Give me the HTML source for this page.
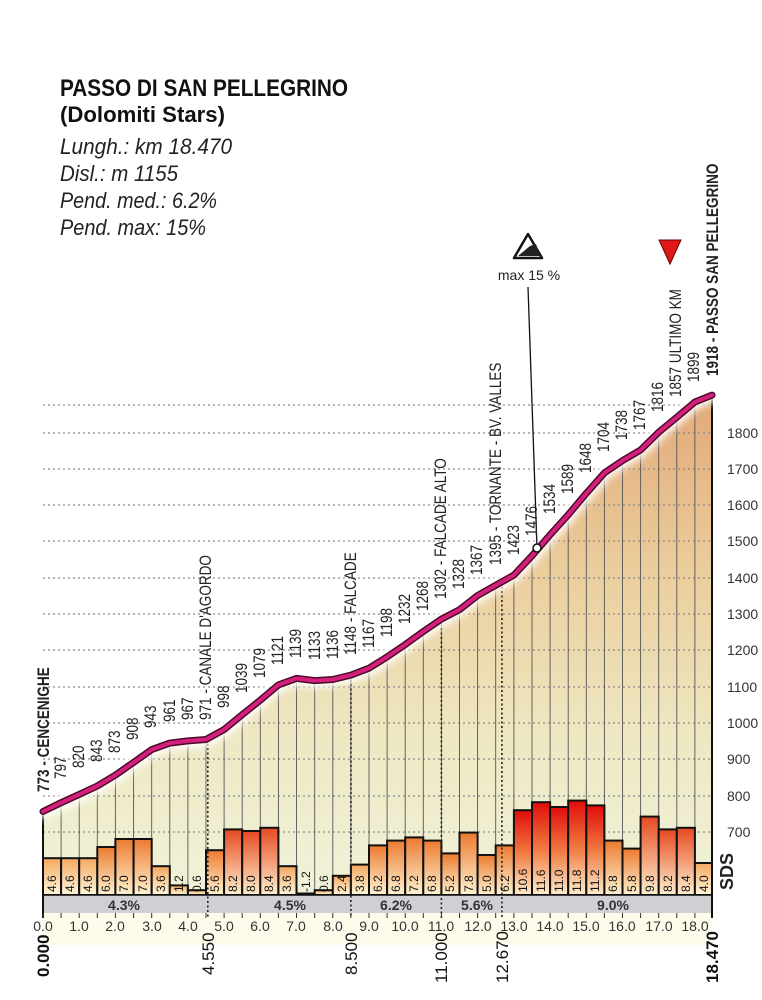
<!DOCTYPE html>
<html><head><meta charset="utf-8"><style>
body{margin:0;background:#fff;}
svg{display:block;font-family:"Liberation Sans Narrow","Liberation Sans",sans-serif;}
.ev{font-size:16.5px;fill:#222;}
.bv{font-size:12px;fill:#111;}
.ax{font-size:14px;fill:#333;}
</style></head><body>
<svg width="762" height="1000" viewBox="0 0 762 1000" xmlns="http://www.w3.org/2000/svg">
<defs>
<linearGradient id="fill" x1="0" y1="395" x2="0" y2="895" gradientUnits="userSpaceOnUse">
<stop offset="0" stop-color="#e2a878"/><stop offset="0.35" stop-color="#ebcd9c"/><stop offset="0.7" stop-color="#eee9c4"/><stop offset="1" stop-color="#f1f2da"/>
</linearGradient>
<linearGradient id="b1" x1="0" y1="0" x2="0" y2="1"><stop offset="0" stop-color="#f3a860"/><stop offset="1" stop-color="#fff6d8"/></linearGradient>
<linearGradient id="b2" x1="0" y1="0" x2="0" y2="1"><stop offset="0" stop-color="#ec7a30"/><stop offset="1" stop-color="#fff3d0"/></linearGradient>
<linearGradient id="b3" x1="0" y1="0" x2="0" y2="1"><stop offset="0" stop-color="#e54a22"/><stop offset="1" stop-color="#fff0cc"/></linearGradient>
<linearGradient id="b4" x1="0" y1="0" x2="0" y2="1"><stop offset="0" stop-color="#e00c0c"/><stop offset="0.5" stop-color="#f07a40"/><stop offset="1" stop-color="#ffeccc"/></linearGradient>
<filter id="gl" x="-10%" y="-10%" width="120%" height="120%"><feGaussianBlur stdDeviation="4"/></filter>
</defs>

<text x="60" y="96" font-size="24" font-weight="bold" fill="#111" textLength="288" lengthAdjust="spacingAndGlyphs">PASSO DI SAN PELLEGRINO</text>
<text x="60" y="122" font-size="22" font-weight="bold" fill="#111" textLength="165" lengthAdjust="spacingAndGlyphs">(Dolomiti Stars)</text>
<g font-size="22" font-style="italic" fill="#222">
<text x="60" y="154" textLength="172" lengthAdjust="spacingAndGlyphs">Lungh.: km 18.470</text>
<text x="60" y="181" textLength="118" lengthAdjust="spacingAndGlyphs">Disl.: m 1155</text>
<text x="60" y="208" textLength="157" lengthAdjust="spacingAndGlyphs">Pend. med.: 6.2%</text>
<text x="60" y="235" textLength="146" lengthAdjust="spacingAndGlyphs">Pend. max: 15%</text>
</g>

<rect x="43" y="913" width="669" height="32" fill="#fdfbea"/>

<polygon fill="url(#fill)" points="43,811.5 61.1,802.7 79.2,794.4 97.3,786.0 115.4,775.1 133.6,762.4 151.7,749.6 169.8,743.1 187.9,740.9 206.0,739.5 224.1,729.6 242.2,714.7 260.3,700.2 278.4,684.9 296.5,678.4 314.7,680.6 332.8,679.5 350.9,675.1 369.0,668.2 387.1,656.9 405.2,644.6 423.3,631.5 441.4,619.1 459.5,609.7 477.6,595.5 495.7,585.3 513.9,575.1 532.0,555.8 550.1,534.8 568.2,514.8 586.3,493.3 604.4,472.9 622.5,460.6 640.6,450.0 658.7,432.2 676.8,417.3 694.9,402.0 712,395.1 712,895 43,895"/>

<g stroke="#8a8a8a" stroke-width="1.2" stroke-dasharray="2,3">
<line x1="43" x2="712" y1="405" y2="405"/><line x1="43" x2="712" y1="433" y2="433"/><line x1="43" x2="712" y1="469" y2="469"/><line x1="43" x2="712" y1="505" y2="505"/><line x1="43" x2="712" y1="541" y2="541"/><line x1="43" x2="712" y1="578" y2="578"/><line x1="43" x2="712" y1="614" y2="614"/><line x1="43" x2="712" y1="650" y2="650"/><line x1="43" x2="712" y1="687" y2="687"/><line x1="43" x2="712" y1="723" y2="723"/><line x1="43" x2="712" y1="759" y2="759"/><line x1="43" x2="712" y1="796" y2="796"/><line x1="43" x2="712" y1="832" y2="832"/>
</g>
<g class="ax" font-size="13">
<text x="727" y="438">1800</text><text x="727" y="474">1700</text><text x="727" y="510">1600</text><text x="727" y="546">1500</text><text x="727" y="583">1400</text><text x="727" y="619">1300</text><text x="727" y="655">1200</text><text x="727" y="692">1100</text><text x="727" y="728">1000</text><text x="727" y="764">900</text><text x="727" y="801">800</text><text x="727" y="837">700</text>
</g>

<path stroke="#555" stroke-width="0.9" fill="none" d="M61.1 802.7V895M79.2 794.4V895M97.3 786V895M115.4 775.1V895M133.6 762.4V895M151.7 749.6V895M169.8 743.1V895M187.9 740.9V895M206 739.5V895M224.1 729.6V895M242.2 714.7V895M260.3 700.2V895M278.4 684.9V895M296.5 678.4V895M314.7 680.6V895M332.8 679.5V895M350.9 675.1V895M369 668.2V895M387.1 656.9V895M405.2 644.6V895M423.3 631.5V895M441.4 619.1V895M459.5 609.7V895M477.6 595.5V895M495.7 585.3V895M513.9 575.1V895M532 555.8V895M550.1 534.8V895M568.2 514.8V895M586.3 493.3V895M604.4 472.9V895M622.5 460.6V895M640.6 450V895M658.7 432.2V895M676.8 417.3V895M694.9 402V895"/>

<g stroke="#111" stroke-width="2">
<rect x="43" y="858.2" width="18.1" height="36.8" fill="url(#b1)"/>
<rect x="61.1" y="858.2" width="18.1" height="36.8" fill="url(#b1)"/>
<rect x="79.2" y="858.2" width="18.1" height="36.8" fill="url(#b1)"/>
<rect x="97.3" y="847" width="18.1" height="48" fill="url(#b2)"/>
<rect x="115.4" y="839" width="18.2" height="56" fill="url(#b2)"/>
<rect x="133.6" y="839" width="18.1" height="56" fill="url(#b2)"/>
<rect x="151.7" y="866.2" width="18.1" height="28.8" fill="url(#b1)"/>
<rect x="169.8" y="885.4" width="18.1" height="9.6" fill="url(#b1)"/>
<rect x="187.9" y="890.2" width="18.1" height="4.8" fill="url(#b1)"/>
<rect x="206" y="850.2" width="18.1" height="44.8" fill="url(#b2)"/>
<rect x="224.1" y="829.4" width="18.1" height="65.6" fill="url(#b3)"/>
<rect x="242.2" y="831" width="18.1" height="64" fill="url(#b3)"/>
<rect x="260.3" y="827.8" width="18.1" height="67.2" fill="url(#b3)"/>
<rect x="278.4" y="866.2" width="18.1" height="28.8" fill="url(#b1)"/>
<rect x="296.5" y="893.5" width="18.2" height="1.5" fill="url(#b1)"/>
<rect x="314.7" y="890.2" width="18.1" height="4.8" fill="url(#b1)"/>
<rect x="332.8" y="875.8" width="18.1" height="19.2" fill="url(#b1)"/>
<rect x="350.9" y="864.6" width="18.1" height="30.4" fill="url(#b1)"/>
<rect x="369" y="845.4" width="18.1" height="49.6" fill="url(#b2)"/>
<rect x="387.1" y="840.6" width="18.1" height="54.4" fill="url(#b2)"/>
<rect x="405.2" y="837.4" width="18.1" height="57.6" fill="url(#b2)"/>
<rect x="423.3" y="840.6" width="18.1" height="54.4" fill="url(#b2)"/>
<rect x="441.4" y="853.4" width="18.1" height="41.6" fill="url(#b2)"/>
<rect x="459.5" y="832.6" width="18.1" height="62.4" fill="url(#b2)"/>
<rect x="477.6" y="855" width="18.1" height="40" fill="url(#b2)"/>
<rect x="495.7" y="845.4" width="18.2" height="49.6" fill="url(#b2)"/>
<rect x="513.9" y="810.2" width="18.1" height="84.8" fill="url(#b4)"/>
<rect x="532" y="802.2" width="18.1" height="92.8" fill="url(#b4)"/>
<rect x="550.1" y="807" width="18.1" height="88" fill="url(#b4)"/>
<rect x="568.2" y="800.6" width="18.1" height="94.4" fill="url(#b4)"/>
<rect x="586.3" y="805.4" width="18.1" height="89.6" fill="url(#b4)"/>
<rect x="604.4" y="840.6" width="18.1" height="54.4" fill="url(#b2)"/>
<rect x="622.5" y="848.6" width="18.1" height="46.4" fill="url(#b2)"/>
<rect x="640.6" y="816.6" width="18.1" height="78.4" fill="url(#b3)"/>
<rect x="658.7" y="829.4" width="18.1" height="65.6" fill="url(#b3)"/>
<rect x="676.8" y="827.8" width="18.1" height="67.2" fill="url(#b3)"/>
<rect x="694.9" y="863" width="17.1" height="32" fill="url(#b1)"/>
</g>

<rect x="43" y="895" width="669" height="18" fill="#cfd0d4"/>
<g font-size="14" font-weight="bold" fill="#333" text-anchor="middle">
<text x="124" y="910">4.3%</text><text x="290" y="910">4.5%</text><text x="396" y="910">6.2%</text><text x="477" y="910">5.6%</text><text x="613" y="910">9.0%</text>
</g>
<g stroke="#222" stroke-width="1.6" stroke-dasharray="2,2.5">
<line x1="207.8" x2="207.8" y1="739" y2="918"/><line x1="350.9" x2="350.9" y1="675" y2="918"/><line x1="441.4" x2="441.4" y1="619" y2="918"/><line x1="501.9" x2="501.9" y1="582" y2="918"/>
</g>
<line x1="43" x2="43" y1="810" y2="918" stroke="#111" stroke-width="2"/>
<line x1="712" x2="712" y1="396" y2="918" stroke="#111" stroke-width="2"/>
<line x1="43" x2="712" y1="895" y2="895" stroke="#111" stroke-width="1.5"/>
<path stroke="#333" stroke-width="1" d="M43 913v5M61.1 913v5M79.2 913v5M97.3 913v5M115.4 913v5M133.6 913v5M151.7 913v5M169.8 913v5M187.9 913v5M206 913v5M224.1 913v5M242.2 913v5M260.3 913v5M278.4 913v5M296.5 913v5M314.7 913v5M332.8 913v5M350.9 913v5M369 913v5M387.1 913v5M405.2 913v5M423.3 913v5M441.4 913v5M459.5 913v5M477.6 913v5M495.7 913v5M513.9 913v5M532 913v5M550.1 913v5M568.2 913v5M586.3 913v5M604.4 913v5M622.5 913v5M640.6 913v5M658.7 913v5M676.8 913v5M694.9 913v5"/>
<g class="ax" text-anchor="middle" font-size="13">
<text x="43" y="931">0.0</text><text x="79" y="931">1.0</text><text x="115" y="931">2.0</text><text x="152" y="931">3.0</text><text x="188" y="931">4.0</text><text x="224" y="931">5.0</text><text x="260" y="931">6.0</text><text x="296" y="931">7.0</text><text x="333" y="931">8.0</text><text x="369" y="931">9.0</text><text x="405" y="931">10.0</text><text x="441" y="931">11.0</text><text x="478" y="931">12.0</text><text x="514" y="931">13.0</text><text x="550" y="931">14.0</text><text x="586" y="931">15.0</text><text x="622" y="931">16.0</text><text x="659" y="931">17.0</text><text x="695" y="931">18.0</text>
</g>
<g font-size="17" fill="#111">
<text transform="translate(49,977) rotate(-90)" font-weight="bold">0.000</text>
<text transform="translate(214,975) rotate(-90)">4.550</text>
<text transform="translate(357,975) rotate(-90)">8.500</text>
<text transform="translate(447,983) rotate(-90)">11.000</text>
<text transform="translate(508,983) rotate(-90)">12.670</text>
<text transform="translate(718,983) rotate(-90)" font-weight="bold">18.470</text>
</g>

<g fill="none" stroke-linejoin="round" stroke-linecap="round">
<polyline stroke="#fff" stroke-width="14" filter="url(#gl)" points="43,811.5 61.1,802.7 79.2,794.4 97.3,786.0 115.4,775.1 133.6,762.4 151.7,749.6 169.8,743.1 187.9,740.9 206.0,739.5 224.1,729.6 242.2,714.7 260.3,700.2 278.4,684.9 296.5,678.4 314.7,680.6 332.8,679.5 350.9,675.1 369.0,668.2 387.1,656.9 405.2,644.6 423.3,631.5 441.4,619.1 459.5,609.7 477.6,595.5 495.7,585.3 513.9,575.1 532.0,555.8 550.1,534.8 568.2,514.8 586.3,493.3 604.4,472.9 622.5,460.6 640.6,450.0 658.7,432.2 676.8,417.3 694.9,402.0 712,395.1"/>
<polyline stroke="#4a0a28" stroke-width="7" points="43,811.5 61.1,802.7 79.2,794.4 97.3,786.0 115.4,775.1 133.6,762.4 151.7,749.6 169.8,743.1 187.9,740.9 206.0,739.5 224.1,729.6 242.2,714.7 260.3,700.2 278.4,684.9 296.5,678.4 314.7,680.6 332.8,679.5 350.9,675.1 369.0,668.2 387.1,656.9 405.2,644.6 423.3,631.5 441.4,619.1 459.5,609.7 477.6,595.5 495.7,585.3 513.9,575.1 532.0,555.8 550.1,534.8 568.2,514.8 586.3,493.3 604.4,472.9 622.5,460.6 640.6,450.0 658.7,432.2 676.8,417.3 694.9,402.0 712,395.1"/>
<polyline stroke="#d4207c" stroke-width="4" points="43,811.5 61.1,802.7 79.2,794.4 97.3,786.0 115.4,775.1 133.6,762.4 151.7,749.6 169.8,743.1 187.9,740.9 206.0,739.5 224.1,729.6 242.2,714.7 260.3,700.2 278.4,684.9 296.5,678.4 314.7,680.6 332.8,679.5 350.9,675.1 369.0,668.2 387.1,656.9 405.2,644.6 423.3,631.5 441.4,619.1 459.5,609.7 477.6,595.5 495.7,585.3 513.9,575.1 532.0,555.8 550.1,534.8 568.2,514.8 586.3,493.3 604.4,472.9 622.5,460.6 640.6,450.0 658.7,432.2 676.8,417.3 694.9,402.0 712,395.1"/>
</g>

<line x1="528" y1="287" x2="537" y2="548" stroke="#111" stroke-width="1.3"/>
<circle cx="537" cy="548" r="4" fill="#fff" stroke="#111" stroke-width="1.5"/>
<polygon points="528,234 514,258 542,258" fill="#fff" stroke="#111" stroke-width="2.5" stroke-linejoin="round"/>
<polygon points="518,256 530,246 536,244 540,256" fill="#222"/>
<text x="529" y="280" font-size="14" text-anchor="middle" fill="#222">max 15 %</text>
<polygon points="659,240 681,240 670,264" fill="#e01818" stroke="#600" stroke-width="1"/>

<g class="ev">
<text transform="translate(49,792) rotate(-90) scale(0.82,1)" font-weight="bold">773 - CENCENIGHE</text>
<text transform="translate(66,779) rotate(-90) scale(0.82,1)">797</text>
<text transform="translate(84,768) rotate(-90) scale(0.82,1)">820</text>
<text transform="translate(102,762) rotate(-90) scale(0.82,1)">843</text>
<text transform="translate(120,753) rotate(-90) scale(0.82,1)">873</text>
<text transform="translate(138,740) rotate(-90) scale(0.82,1)">908</text>
<text transform="translate(156,728) rotate(-90) scale(0.82,1)">943</text>
<text transform="translate(175,722) rotate(-90) scale(0.82,1)">961</text>
<text transform="translate(193,720) rotate(-90) scale(0.82,1)">967</text>
<text transform="translate(211,720) rotate(-90) scale(0.82,1)">971 - CANALE D'AGORDO</text>
<text transform="translate(229,708) rotate(-90) scale(0.82,1)">998</text>
<text transform="translate(247,693) rotate(-90) scale(0.82,1)">1039</text>
<text transform="translate(265,678) rotate(-90) scale(0.82,1)">1079</text>
<text transform="translate(283,665) rotate(-90) scale(0.82,1)">1121</text>
<text transform="translate(301,658) rotate(-90) scale(0.82,1)">1139</text>
<text transform="translate(320,660) rotate(-90) scale(0.82,1)">1133</text>
<text transform="translate(338,659) rotate(-90) scale(0.82,1)">1136</text>
<text transform="translate(356,655) rotate(-90) scale(0.82,1)">1148 - FALCADE</text>
<text transform="translate(374,648) rotate(-90) scale(0.82,1)">1167</text>
<text transform="translate(392,637) rotate(-90) scale(0.82,1)">1198</text>
<text transform="translate(410,624) rotate(-90) scale(0.82,1)">1232</text>
<text transform="translate(428,611) rotate(-90) scale(0.82,1)">1268</text>
<text transform="translate(446,599) rotate(-90) scale(0.82,1)">1302 - FALCADE ALTO</text>
<text transform="translate(464,589) rotate(-90) scale(0.82,1)">1328</text>
<text transform="translate(482,575) rotate(-90) scale(0.82,1)">1367</text>
<text transform="translate(501,565) rotate(-90) scale(0.82,1)">1395 - TORNANTE - BV. VALLES</text>
<text transform="translate(519,555) rotate(-90) scale(0.82,1)">1423</text>
<text transform="translate(537,536) rotate(-90) scale(0.82,1)">1476</text>
<text transform="translate(555,514) rotate(-90) scale(0.82,1)">1534</text>
<text transform="translate(573,494) rotate(-90) scale(0.82,1)">1589</text>
<text transform="translate(591,473) rotate(-90) scale(0.82,1)">1648</text>
<text transform="translate(609,452) rotate(-90) scale(0.82,1)">1704</text>
<text transform="translate(627,440) rotate(-90) scale(0.82,1)">1738</text>
<text transform="translate(645,430) rotate(-90) scale(0.82,1)">1767</text>
<text transform="translate(663,412) rotate(-90) scale(0.82,1)">1816</text>
<text transform="translate(681,397) rotate(-90) scale(0.82,1)">1857 ULTIMO KM</text>
<text transform="translate(699,382) rotate(-90) scale(0.82,1)">1899</text>
<text transform="translate(718,376) rotate(-90) scale(0.82,1)" font-weight="bold">1918 - PASSO SAN PELLEGRINO</text>
</g>

<g class="bv">
<text transform="translate(56,892) rotate(-90)">4.6</text>
<text transform="translate(74,892) rotate(-90)">4.6</text>
<text transform="translate(92,892) rotate(-90)">4.6</text>
<text transform="translate(110,892) rotate(-90)">6.0</text>
<text transform="translate(128,892) rotate(-90)">7.0</text>
<text transform="translate(147,892) rotate(-90)">7.0</text>
<text transform="translate(165,892) rotate(-90)">3.6</text>
<text transform="translate(183,892) rotate(-90)">1.2</text>
<text transform="translate(201,892) rotate(-90)">0.6</text>
<text transform="translate(219,892) rotate(-90)">5.6</text>
<text transform="translate(237,892) rotate(-90)">8.2</text>
<text transform="translate(255,892) rotate(-90)">8.0</text>
<text transform="translate(273,892) rotate(-90)">8.4</text>
<text transform="translate(291,892) rotate(-90)">3.6</text>
<text transform="translate(310,892) rotate(-90)">-1.2</text>
<text transform="translate(328,892) rotate(-90)">0.6</text>
<text transform="translate(346,892) rotate(-90)">2.4</text>
<text transform="translate(364,892) rotate(-90)">3.8</text>
<text transform="translate(382,892) rotate(-90)">6.2</text>
<text transform="translate(400,892) rotate(-90)">6.8</text>
<text transform="translate(418,892) rotate(-90)">7.2</text>
<text transform="translate(436,892) rotate(-90)">6.8</text>
<text transform="translate(454,892) rotate(-90)">5.2</text>
<text transform="translate(473,892) rotate(-90)">7.8</text>
<text transform="translate(491,892) rotate(-90)">5.0</text>
<text transform="translate(509,892) rotate(-90)">6.2</text>
<text transform="translate(527,892) rotate(-90)">10.6</text>
<text transform="translate(545,892) rotate(-90)">11.6</text>
<text transform="translate(563,892) rotate(-90)">11.0</text>
<text transform="translate(581,892) rotate(-90)">11.8</text>
<text transform="translate(599,892) rotate(-90)">11.2</text>
<text transform="translate(617,892) rotate(-90)">6.8</text>
<text transform="translate(636,892) rotate(-90)">5.8</text>
<text transform="translate(654,892) rotate(-90)">9.8</text>
<text transform="translate(672,892) rotate(-90)">8.2</text>
<text transform="translate(690,892) rotate(-90)">8.4</text>
<text transform="translate(708,892) rotate(-90)">4.0</text>
</g>
<text transform="translate(733,890) rotate(-90)" font-size="18" font-weight="bold" fill="#222">SDS</text>
</svg>
</body></html>
